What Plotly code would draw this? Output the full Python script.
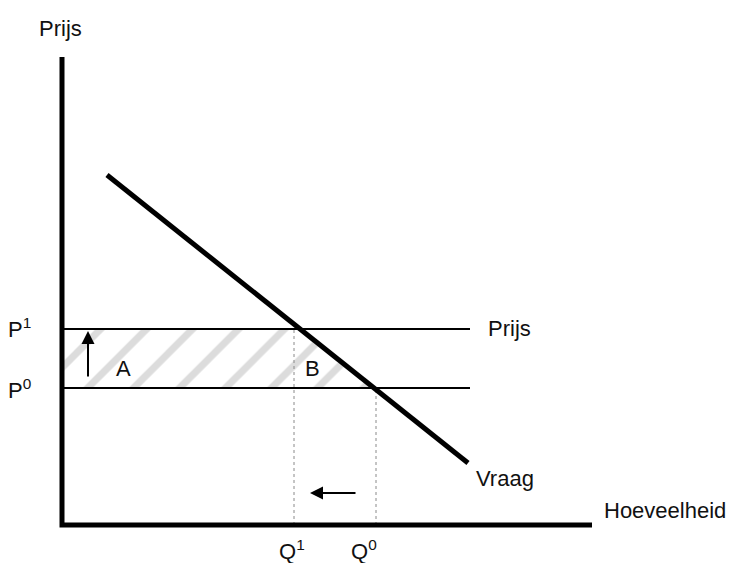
"""
Prijs / Vraag diagram: price rise from P0 to P1 with hatched areas A and B.
"""

import plotly.graph_objects as go

# --------------------------------------------------
# Data (one unit = one step on the sketch grid)
# --------------------------------------------------

price_levels = [3.425, 4.9]          # P0, P1
quantities = [7.85, 5.8]             # Q0, Q1
price_line_end = 10.2

demand_q = [1.125, 10.15]
demand_p = [8.75, 1.55]

# hatched area A + B: axis -> P1 -> along demand -> P0
area_q = [0, 0, 5.95, 7.775, 0]
area_p = [3.425, 4.9, 4.9, 3.425, 3.425]

axis_q_end = 13.25
axis_p_end = 11.7

FONT = "Liberation Sans, Arial, sans-serif"
FS = 22

fig = go.Figure()

# hatched surplus area
fig.add_trace(go.Scatter(
    x=area_q, y=area_p,
    mode="lines", fill="toself",
    line=dict(width=0, color="rgba(0,0,0,0)"),
    fillcolor="rgba(0,0,0,0)",
    fillpattern=dict(shape="/", fgcolor="#bababa", bgcolor="white",
                     size=32.5, solidity=0.22),
    hoverinfo="skip"
))

# price lines P0 and P1
for p in price_levels:
    fig.add_trace(go.Scatter(
        x=[0, price_line_end], y=[p, p], mode="lines",
        line=dict(color="black", width=2), hoverinfo="skip"
    ))

# dotted drop lines Q1, Q0
for q, p in zip(quantities, price_levels):
    fig.add_trace(go.Scatter(
        x=[q, q], y=[0, p], mode="lines",
        line=dict(color="#8a8a8a", width=1, dash="dot"), hoverinfo="skip"
    ))

# demand
fig.add_trace(go.Scatter(
    x=demand_q, y=demand_p, mode="lines",
    line=dict(color="black", width=5), hoverinfo="skip"
))

# axes
fig.add_trace(go.Scatter(
    x=[0, 0, axis_q_end], y=[axis_p_end, 0, 0], mode="lines",
    line=dict(color="black", width=5), hoverinfo="skip"
))

# --------------------------------------------------
# Arrows
# --------------------------------------------------

arrow = dict(showarrow=True, arrowhead=2, arrowsize=1.3, arrowwidth=2,
             arrowcolor="black", axref="x", ayref="y", standoff=0, text="")

fig.add_annotation(x=0.65, y=4.85, ax=0.65, ay=3.675, **arrow)
fig.add_annotation(x=6.2, y=0.8, ax=7.375, ay=0.8, **arrow)

# --------------------------------------------------
# Labels
# --------------------------------------------------

labels = [
    ("Prijs", -0.04, 12.425, "center"),
    ("P<sup>1</sup>", -0.72, 4.925, "right"),
    ("P<sup>0</sup>", -0.72, 3.4, "right"),
    ("Prijs", 10.6, 4.925, "left"),
    ("A", 1.525, 3.925, "center"),
    ("B", 6.25, 3.925, "center"),
    ("Vraag", 10.3, 1.175, "left"),
    ("Hoeveelheid", 13.5, 0.375, "left"),
    ("Q<sup>1</sup>", 5.75, -0.62, "center"),
    ("Q<sup>0</sup>", 7.55, -0.62, "center"),
]

for text, x, y, anchor in labels:
    fig.add_annotation(x=x, y=y, text=text, showarrow=False,
                       xanchor=anchor, yanchor="middle",
                       font=dict(family=FONT, size=FS, color="#111"))

# page body has an 8px margin, so the ranges are nudged to compensate
fig.update_layout(
    width=736, height=563,
    margin=dict(l=0, r=0, t=0, b=0, pad=0),
    paper_bgcolor="white", plot_bgcolor="white",
    showlegend=False,
    xaxis=dict(range=[-1.35, 17.05], visible=False, fixedrange=True),
    yaxis=dict(range=[-1.15, 12.925], visible=False, fixedrange=True),
)

fig.write_html("out.html")
